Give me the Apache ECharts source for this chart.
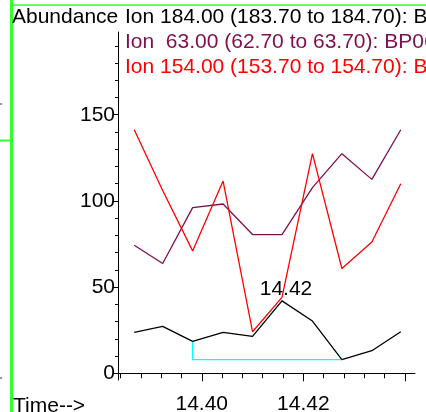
<!DOCTYPE html>
<html>
<head>
<meta charset="utf-8">
<script src="https://cdn.jsdelivr.net/npm/echarts@6/dist/echarts.min.js"></script>
<style>
  html, body { margin: 0; padding: 0; background: #fff; }
  #chart { width: 426px; height: 412px; }
</style>
</head>
<body>
<div id="chart"></div>
<script>
// retention times (min) of each scan
var times = [14.3867, 14.3923, 14.3982, 14.4042, 14.4100, 14.4158, 14.4218, 14.4276, 14.4335, 14.4392];
// extracted ion abundances
var ion184 = [23.7, 27.2, 18.5, 23.7, 21.4, 42.0, 30.3, 7.9, 13.1, 24.1];
var ion63 = [74.3, 63.7, 96.1, 98.2, 80.5, 80.5, 107.7, 127.4, 112.5, 141.3];
var ion154 = [141.3, 106.0, 71.0, 111.5, 24.1, 44.0, 127.4, 60.8, 76.2, 110.0];
// integration baseline: from scan 2 to scan 7
var baseStart = 2;
var baseEnd = 7;

var xMinorTicks = [14.384, 14.388, 14.392, 14.396, 14.404, 14.408, 14.412, 14.416, 14.424, 14.428, 14.432, 14.436];
var xMajorTicks = [14.40, 14.42, 14.44];
var xLabels = [14.40, 14.42];
var yMajorTicks = [0, 50, 100, 150];
var yMinorTicks = [10, 20, 30, 40, 60, 70, 80, 90, 110, 120, 130, 140, 160, 170, 180, 190];

var titles = [
    {text: 'Ion 184.00 (183.70 to 184.70): BP06.D', color: '#000000'},
    {text: 'Ion  63.00 (62.70 to 63.70): BP06.D', color: '#7f0f4f'},
    {text: 'Ion 154.00 (153.70 to 154.70): BP06.D', color: '#ff0000'}
];

var font = 'Liberation Sans';
var fsize = 21;

function pairs(vals) {
    return vals.map(function (v, i) { return [times[i], v]; });
}

// peak label goes on the tallest scan of ion 184
var peak = ion184.indexOf(Math.max.apply(null, ion184));
var blackData = pairs(ion184);
blackData[peak] = {
    value: blackData[peak],
    symbol: 'circle',
    symbolSize: 1,
    itemStyle: {color: '#000'},
    label: {
        show: true,
        position: 'top',
        distance: 1,
        offset: [4, 0],
        formatter: times[peak].toFixed(2),
        fontFamily: font,
        fontSize: fsize,
        color: '#000'
    }
};

var baseline = [
    [times[baseStart], ion184[baseStart]],
    [times[baseStart], ion184[baseEnd]],
    [times[baseEnd], ion184[baseEnd]]
];

var chart = echarts.init(document.getElementById('chart'));

var titleList = [{
    text: 'Abundance',
    left: 12, top: 7, padding: 0,
    textStyle: {fontFamily: font, fontSize: fsize, fontWeight: 'normal', color: '#000'}
}];
titles.forEach(function (t, i) {
    titleList.push({
        text: t.text,
        left: 125, top: 7 + i * 25, padding: 0,
        textStyle: {fontFamily: font, fontSize: fsize, fontWeight: 'normal', color: t.color}
    });
});

var xBase = {
    type: 'value',
    min: 14.3835,
    max: 14.442,
    position: 'bottom',
    splitLine: {show: false}
};

var yBase = {
    type: 'value',
    min: -3.9,
    max: 198,
    position: 'left',
    splitLine: {show: false}
};

option = {
    animation: false,
    backgroundColor: '#fff',
    title: titleList,
    grid: {left: 118, right: 11, top: 32, bottom: 32, containLabel: false, outerBoundsMode: 'none'},
    xAxis: [
        Object.assign({}, xBase, {
            axisLine: {show: true, lineStyle: {color: '#000', width: 1}},
            axisTick: {show: true, inside: false, length: 5, customValues: xMinorTicks, lineStyle: {color: '#000'}},
            axisLabel: {show: false}
        }),
        Object.assign({}, xBase, {
            axisLine: {show: false},
            axisTick: {show: true, inside: false, length: 8, customValues: xMajorTicks, lineStyle: {color: '#000'}},
            axisLabel: {
                show: true, customValues: xLabels, margin: 14,
                fontFamily: font, fontSize: fsize, color: '#000',
                formatter: function (v) { return v.toFixed(2); }
            }
        })
    ],
    yAxis: [
        Object.assign({}, yBase, {
            axisLine: {show: true, lineStyle: {color: '#000', width: 1}},
            axisTick: {show: true, inside: false, length: 3, customValues: yMinorTicks, lineStyle: {color: '#000'}},
            axisLabel: {show: false}
        }),
        Object.assign({}, yBase, {
            axisLine: {show: false},
            axisTick: {show: true, inside: false, length: 5, customValues: yMajorTicks, lineStyle: {color: '#000'}},
            axisLabel: {
                show: true, customValues: yMajorTicks, margin: 3,
                fontFamily: font, fontSize: fsize, color: '#000'
            }
        })
    ],
    graphic: [
        {type: 'line', shape: {x1: 11.5, y1: 0, x2: 11.5, y2: 412}, style: {stroke: '#33ff33', lineWidth: 3}},
        {type: 'line', shape: {x1: 11, y1: 5, x2: 426, y2: 5}, style: {stroke: '#33ff33', lineWidth: 1.5}},
        {type: 'line', shape: {x1: 0, y1: 140.5, x2: 10, y2: 140.5}, style: {stroke: '#33ff33', lineWidth: 2}},
        {type: 'rect', shape: {x: 0, y: 103, width: 2, height: 2}, style: {fill: '#999'}},
        {type: 'rect', shape: {x: 0, y: 377, width: 2, height: 2}, style: {fill: '#999'}},
        {
            type: 'text', left: 13, top: 396,
            style: {text: 'Time-->', fontFamily: font, fontSize: fsize, fill: '#000'}
        }
    ],
    series: [
        {
            name: 'baseline',
            type: 'line',
            data: baseline,
            symbol: 'none',
            lineStyle: {color: '#00ffff', width: 1.3}
        },
        {
            name: 'Ion 184',
            type: 'line',
            data: blackData,
            symbol: 'none',
            lineStyle: {color: '#000000', width: 1.3}
        },
        {
            name: 'Ion 63',
            type: 'line',
            data: pairs(ion63),
            symbol: 'none',
            lineStyle: {color: '#7f0f4f', width: 1.3}
        },
        {
            name: 'Ion 154',
            type: 'line',
            data: pairs(ion154),
            symbol: 'none',
            lineStyle: {color: '#ff0000', width: 1.3}
        }
    ]
};

chart.setOption(option);
</script>
</body>
</html>
